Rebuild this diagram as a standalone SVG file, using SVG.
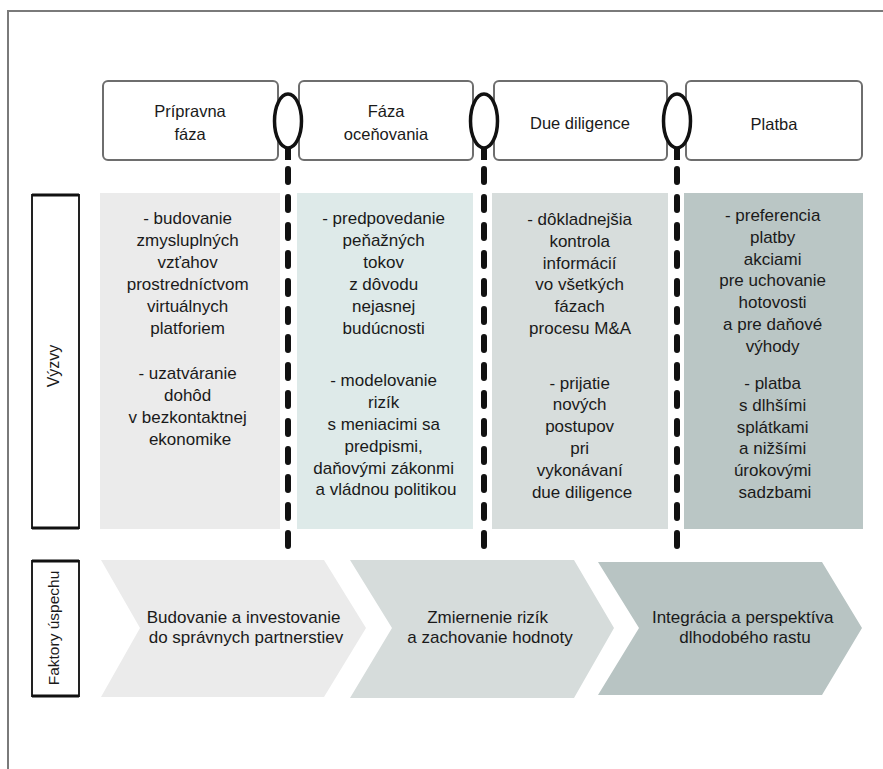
<svg xmlns="http://www.w3.org/2000/svg" width="883" height="769" viewBox="0 0 883 769">
<style>
.frame{fill:none;stroke:#7a7a7a;stroke-width:2}
.hdr{fill:#fff;stroke:#6e6e6e;stroke-width:2}
.lbl{fill:#fff;stroke:#222;stroke-width:2}
.t{font-family:"Liberation Sans",Arial,sans-serif;fill:#1a1a1a;text-anchor:middle}
.h{font-size:16.5px}
.b{font-size:17px}
.c{font-size:17px}
.v{font-size:16px}
.f{font-size:15.5px}
.ms{fill:#fff;stroke:#111;stroke-width:3.5}
.dash{stroke:#111;stroke-width:6;stroke-linecap:round;stroke-dasharray:13 15;fill:none}
.stem{stroke:#111;stroke-width:6;fill:none}
</style>

<g id="frame">
<path class="frame" d="M8,769 V11 H883"/>
</g>

<!-- Row labels -->
<g id="label-vyzvy">
<rect class="lbl" x="32" y="195" width="47" height="333"/>
<line x1="32" y1="195" x2="79" y2="195" stroke="#111" stroke-width="3"/>
<line x1="32" y1="528" x2="79" y2="528" stroke="#111" stroke-width="3"/>
<text class="t v" transform="translate(59,366) rotate(-90)">Výzvy</text>
</g>
<g id="label-faktory">
<rect class="lbl" x="32" y="561" width="47" height="135"/>
<line x1="32" y1="561" x2="79" y2="561" stroke="#111" stroke-width="3"/>
<line x1="32" y1="696" x2="79" y2="696" stroke="#111" stroke-width="3"/>
<text class="t f" transform="translate(59,628) rotate(-90)">Faktory úspechu</text>
</g>

<!-- Header phase boxes -->
<g id="phase-1">
<rect class="hdr" x="103" y="81" width="175" height="79" rx="5"/>
<text class="t h" x="190" y="117">Prípravna</text>
<text class="t h" x="190" y="140">fáza</text>
</g>
<g id="phase-2">
<rect class="hdr" x="299" y="81" width="174" height="79" rx="5"/>
<text class="t h" x="386" y="117">Fáza</text>
<text class="t h" x="386" y="140">oceňovania</text>
</g>
<g id="phase-3">
<rect class="hdr" x="494" y="81" width="173" height="79" rx="5"/>
<text class="t h" x="580" y="129">Due diligence</text>
</g>
<g id="phase-4">
<rect class="hdr" x="686" y="81" width="176" height="79" rx="5"/>
<text class="t h" x="774" y="130">Platba</text>
</g>

<!-- Challenge columns -->
<g id="challenge-1">
<rect x="100" y="193" width="180" height="336" fill="#ebebeb"/>
<text class="t b">
<tspan x="190" y="224">- budovanie</tspan>
<tspan x="190" y="246">zmysluplných</tspan>
<tspan x="190" y="268">vzťahov</tspan>
<tspan x="190" y="290">prostredníctvom</tspan>
<tspan x="190" y="312">virtuálnych</tspan>
<tspan x="190" y="334">platforiem</tspan>
<tspan x="190" y="379">- uzatváranie</tspan>
<tspan x="190" y="401">dohôd</tspan>
<tspan x="190" y="423">v bezkontaktnej</tspan>
<tspan x="190" y="445">ekonomike</tspan>
</text>
</g>
<g id="challenge-2">
<rect x="297" y="193" width="176" height="336" fill="#deeae9"/>
<text class="t b">
<tspan x="386" y="224">- predpovedanie</tspan>
<tspan x="386" y="246">peňažných</tspan>
<tspan x="386" y="268">tokov</tspan>
<tspan x="386" y="290">z dôvodu</tspan>
<tspan x="386" y="312">nejasnej</tspan>
<tspan x="386" y="334">budúcnosti</tspan>
<tspan x="386" y="386">- modelovanie</tspan>
<tspan x="386" y="408">rizík</tspan>
<tspan x="386" y="430">s meniacimi sa</tspan>
<tspan x="386" y="452">predpismi,</tspan>
<tspan x="386" y="474">daňovými zákonmi</tspan>
<tspan x="386" y="495">a vládnou politikou</tspan>
</text>
</g>
<g id="challenge-3">
<rect x="492" y="193" width="176" height="336" fill="#d7dddc"/>
<text class="t b">
<tspan x="582" y="225">- dôkladnejšia</tspan>
<tspan x="582" y="247">kontrola</tspan>
<tspan x="582" y="269">informácií</tspan>
<tspan x="582" y="290">vo všetkých</tspan>
<tspan x="582" y="312">fázach</tspan>
<tspan x="582" y="334">procesu M&amp;A</tspan>
<tspan x="582" y="389">- prijatie</tspan>
<tspan x="582" y="410">nových</tspan>
<tspan x="582" y="432">postupov</tspan>
<tspan x="582" y="454">pri</tspan>
<tspan x="582" y="476">vykonávaní</tspan>
<tspan x="582" y="498">due diligence</tspan>
</text>
</g>
<g id="challenge-4">
<rect x="684" y="193" width="179" height="336" fill="#bac6c5"/>
<text class="t b">
<tspan x="775" y="221">- preferencia</tspan>
<tspan x="775" y="243">platby</tspan>
<tspan x="775" y="265">akciami</tspan>
<tspan x="775" y="286">pre uchovanie</tspan>
<tspan x="775" y="308">hotovosti</tspan>
<tspan x="775" y="330">a pre daňové</tspan>
<tspan x="775" y="352">výhody</tspan>
<tspan x="775" y="389">- platba</tspan>
<tspan x="775" y="411">s dlhšími</tspan>
<tspan x="775" y="433">splátkami</tspan>
<tspan x="775" y="454">a nižšími</tspan>
<tspan x="775" y="476">úrokovými</tspan>
<tspan x="775" y="498">sadzbami</tspan>
</text>
</g>

<!-- Success factor chevrons -->
<g id="factor-1">
<polygon points="101,560 324,560 366,628 324,697 101,697 140,628" fill="#ebebeb"/>
<text class="t c">
<tspan x="246" y="623">Budovanie a investovanie</tspan>
<tspan x="246" y="643">do správnych partnerstiev</tspan>
</text>
</g>
<g id="factor-2">
<polygon points="350,560 574,560 614,628 574,698 350,698 392,628" fill="#d6dcdb"/>
<text class="t c">
<tspan x="490" y="623">Zmiernenie rizík</tspan>
<tspan x="490" y="643">a zachovanie hodnoty</tspan>
</text>
</g>
<g id="factor-3">
<polygon points="598,562 822,562 862,628 822,695 598,695 639,628" fill="#b8c4c3"/>
<text class="t c">
<tspan x="745" y="623">Integrácia a perspektíva</tspan>
<tspan x="745" y="643">dlhodobého rastu</tspan>
</text>
</g>

<!-- Connectors: dashed phase separators -->
<g id="connectors">
<line class="stem" x1="288" y1="140" x2="288" y2="160"/>
<line class="dash" x1="288" y1="169" x2="288" y2="555"/>
<line class="stem" x1="484" y1="140" x2="484" y2="160"/>
<line class="dash" x1="484" y1="169" x2="484" y2="555"/>
<line class="stem" x1="677" y1="140" x2="677" y2="160"/>
<line class="dash" x1="677" y1="169" x2="677" y2="555"/>
</g>

<!-- Milestone circles -->
<g id="milestone-1"><ellipse class="ms" cx="288" cy="121" rx="13.5" ry="27"/></g>
<g id="milestone-2"><ellipse class="ms" cx="484" cy="121" rx="13.5" ry="27"/></g>
<g id="milestone-3"><ellipse class="ms" cx="677" cy="121" rx="13.5" ry="27"/></g>
</svg>
